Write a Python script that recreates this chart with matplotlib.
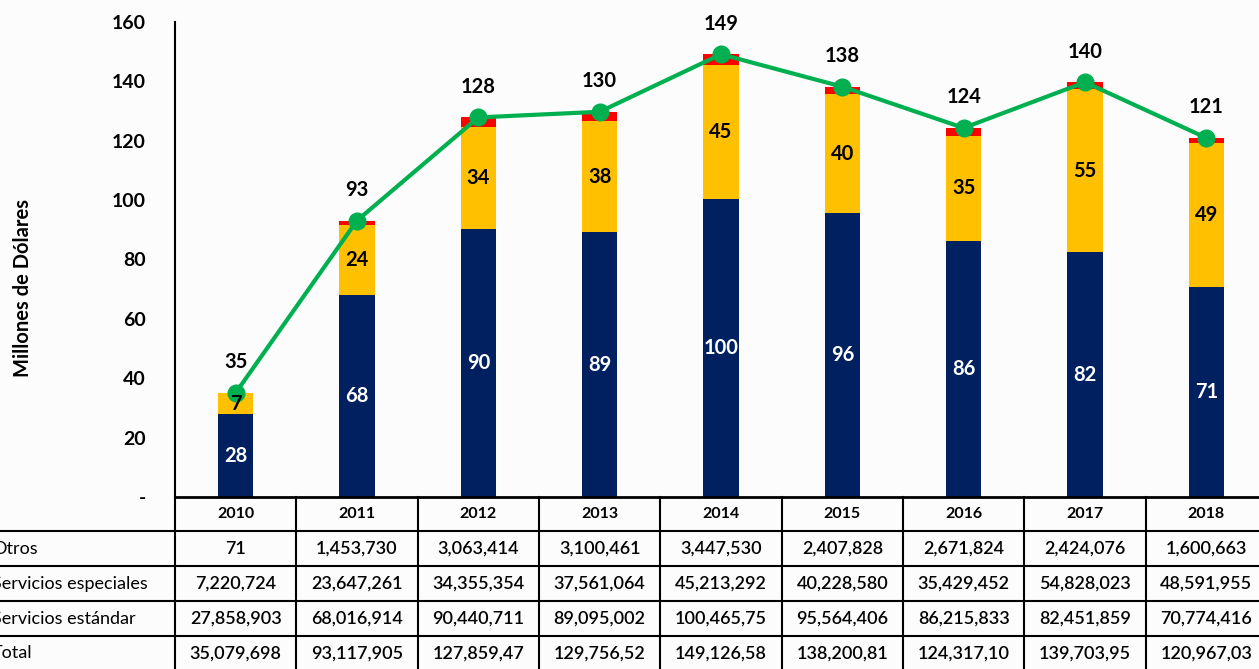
import numpy as np
import matplotlib.pyplot as plt
from matplotlib.lines import Line2D

plt.rcParams["font.family"] = ["Lato", "DejaVu Sans"]

years = ["2010", "2011", "2012", "2013", "2014", "2015", "2016", "2017", "2018"]
otros = [71, 1453730, 3063414, 3100461, 3447530, 2407828, 2671824, 2424076, 1600663]
especiales = [7220724, 23647261, 34355354, 37561064, 45213292, 40228580, 35429452, 54828023, 48591955]
estandar = [27858903, 68016914, 90440711, 89095002, 100465758, 95564406, 86215833, 82451859, 70774416]
row_labels = ["Otros", "Servicios especiales", "Servicios estándar", "Total"]
yticks = [0, 20, 40, 60, 80, 100, 120, 140, 160]
ytick_labels = ["-", "20", "40", "60", "80", "100", "120", "140", "160"]

NAVY = "#002060"
GOLD = "#FFC000"
RED = "#FF0000"
GREEN = "#00B050"
BG = "#FCFCFC"

otros_m = np.array(otros) / 1e6
esp_m = np.array(especiales) / 1e6
est_m = np.array(estandar) / 1e6
total = np.array(otros) + np.array(especiales) + np.array(estandar)
total_m = total / 1e6
x = np.arange(len(years))

W, H = 1259, 669
fig = plt.figure(figsize=(W / 100, H / 100), dpi=100, facecolor=BG)
ax = fig.add_axes([175 / W, (H - 497) / H, 1092 / W, 475 / H], facecolor=BG)

bw = 0.29
ax.bar(x, est_m, bw, color=NAVY, zorder=2)
ax.bar(x, esp_m, bw, bottom=est_m, color=GOLD, zorder=2)
ax.bar(x, otros_m, bw, bottom=est_m + esp_m, color=RED, zorder=2)
ax.plot(x, total_m, color=GREEN, lw=3, marker="o", ms=12, zorder=3)

for i in range(len(years)):
    ax.text(x[i], est_m[i] / 2, f"{est_m[i]:.0f}", ha="center", va="center",
            color="white", fontsize=14.5, fontweight="bold", zorder=4)
    ax.text(x[i], est_m[i] + esp_m[i] / 2, f"{esp_m[i]:.0f}", ha="center", va="center",
            color="black", fontsize=14.5, fontweight="bold", zorder=4)
    ax.annotate(f"{total_m[i]:.0f}", (x[i], total_m[i]), xytext=(0, 22),
                textcoords="offset points", ha="center", va="center",
                fontsize=14.5, fontweight="bold", zorder=4)

ax.set_xlim(-0.5, len(years) - 0.5)
ax.set_ylim(0, 160)
ax.set_yticks(yticks)
ax.set_yticklabels(ytick_labels, fontsize=14, fontweight="bold")
ax.tick_params(axis="y", length=0, pad=21)
ax.set_xticks([])
for s in ["top", "right", "bottom"]:
    ax.spines[s].set_visible(False)
ax.spines["left"].set_linewidth(1.5)
ax.set_ylabel("Millones de Dólares", fontsize=14.5, fontweight="bold", labelpad=0)
ax.yaxis.set_label_coords(-142 / 1092, 0.44)

# table below the axes
tr = ax.get_xaxis_transform()
ppx = 475.0
row_y = [497, 531, 566, 601, 636, 671]
ay = [(497 - y) / ppx for y in row_y]
left_x = -0.5 - 183 / 121.33
right_x = len(years) - 0.5

ax.add_line(Line2D([-0.5, right_x], [ay[0], ay[0]], transform=tr, color="black", lw=2, clip_on=False))
for yy in ay[1:]:
    ax.add_line(Line2D([left_x, right_x], [yy, yy], transform=tr, color="black", lw=1.5, clip_on=False))
for b in np.arange(len(years) + 1) - 0.5:
    ax.add_line(Line2D([b, b], [ay[0], ay[-1]], transform=tr, color="black", lw=1.5, clip_on=False))

for i, yr in enumerate(years):
    ax.text(x[i], (ay[0] + ay[1]) / 2, yr, transform=tr, ha="center", va="center",
            fontsize=11.5, fontweight="bold", clip_on=False)

rows = [otros, especiales, estandar, list(total)]
for r, (lab, vals) in enumerate(zip(row_labels, rows)):
    yc = (ay[r + 1] + ay[r + 2]) / 2
    ax.text(left_x, yc, lab, transform=tr, ha="left", va="center",
            fontsize=13, clip_on=False)
    for i, v in enumerate(vals):
        ax.text(x[i], yc, f"{int(v):,}"[:10], transform=tr, ha="center", va="center",
                fontsize=13, fontweight="semibold", clip_on=False)

fig.savefig("out.png", dpi=100, facecolor=BG)
